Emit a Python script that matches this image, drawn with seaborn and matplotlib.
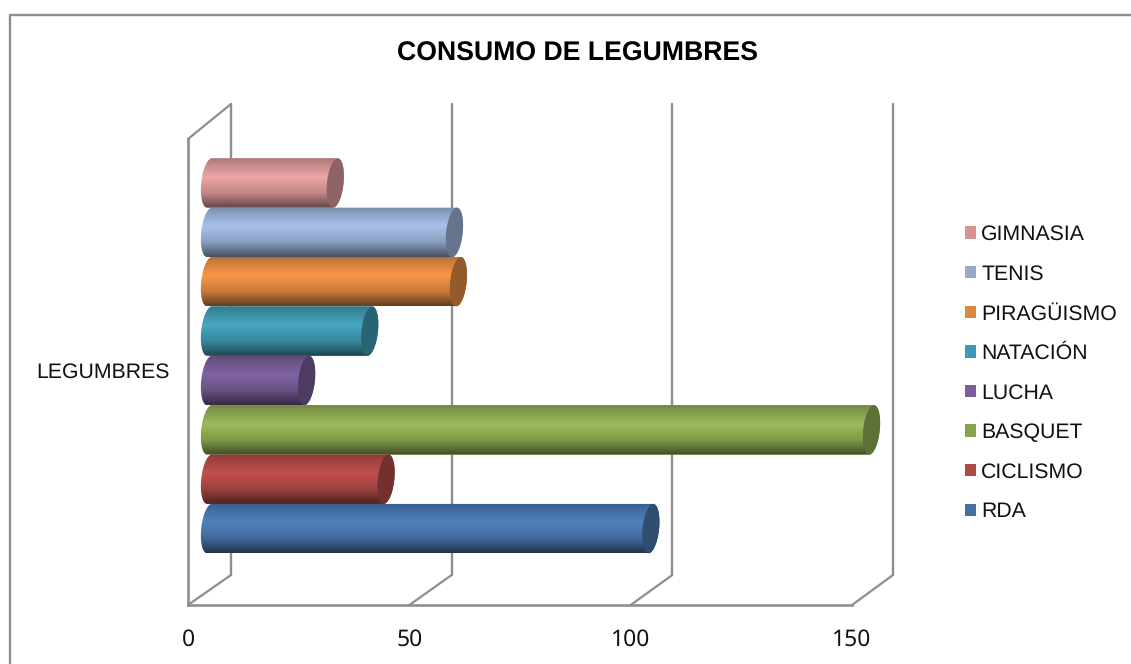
import numpy as np
import pandas as pd
import matplotlib
matplotlib.use("Agg")
import matplotlib.pyplot as plt
from matplotlib.lines import Line2D
from matplotlib.patches import Patch, Polygon
from matplotlib.transforms import IdentityTransform
import seaborn as sns

# ---- data ----
category = "LEGUMBRES"
sports = ["GIMNASIA", "TENIS", "PIRAGÜISMO", "NATACIÓN", "LUCHA", "BASQUET", "CICLISMO", "RDA"]
values = [28.5, 55.5, 56.4, 36.3, 22, 150, 40, 100]
peak_colors = ["#EDA5A5", "#A8C2EA", "#F79646", "#45A7C0", "#8064A2", "#9BBB59", "#C0504D", "#4F81BD"]
legend_colors = ["#D59393", "#95A9D0", "#DD8840", "#3F99B0", "#7A5F9A", "#88A24E", "#B04A47", "#44719F"]
x_ticks = [0, 50, 100, 150]
title = "CONSUMO DE LEGUMBRES"

W, H = 1131, 664
LINE = "#8E8E8E"

sns.set_theme(style="white")
plt.rcParams["font.family"] = ["Liberation Sans", "DejaVu Sans"]
plt.rcParams["text.hinting"] = "no_hinting"


def axes_px(fig, left, top, right, bottom):
    return fig.add_axes([left / W, 1 - bottom / H, (right - left) / W, (bottom - top) / H])


fig = plt.figure(figsize=(W / 100, H / 100), dpi=100, facecolor="white")

# outer chart border
fig.add_artist(Line2D([9.5 / W, 9.5 / W, 1], [0, 1 - 14.5 / H, 1 - 14.5 / H],
                      color=LINE, lw=1.7, transform=fig.transFigure))

# back wall with the gridlines
back = axes_px(fig, 231, 104, 893, 575)
back.set_xlim(0, 150)
back.set_ylim(0, 1)
back.set_xticks(x_ticks)
back.set_yticks([])
back.tick_params(length=0, labelbottom=False)
back.grid(True, axis="x", color=LINE, lw=1.7)
for gl in back.get_xgridlines():
    gl.set_clip_on(False)
back.patch.set_visible(False)
sns.despine(ax=back, left=True, bottom=True)

# front plane: axis lines and labels
front = axes_px(fig, 188, 139, 852, 605)
front.set_xlim(0, 150)
front.set_ylim(0, 1)
front.patch.set_visible(False)
sns.despine(ax=front)
for s in ("left", "bottom"):
    front.spines[s].set_color(LINE)
    front.spines[s].set_linewidth(1.9)
front.set_xticks(x_ticks)
front.set_xticklabels([str(v) for v in x_ticks], family="Noto Sans", fontsize=16.5, color="#111111")
front.set_yticks([0.504])
front.set_yticklabels([category], fontsize=15.3, color="#111111")
front.tick_params(axis="x", length=0, pad=17)
front.tick_params(axis="y", length=0, pad=13)

# floor diagonals
fig.canvas.draw()
for v in x_ticks:
    a = front.transData.transform((v, 0))
    b = back.transData.transform((v, 0))
    front.add_line(Line2D([a[0], b[0]], [a[1], b[1]], color=LINE, lw=1.6,
                          transform=IdentityTransform(), clip_on=False))
a = front.transData.transform((0, 1))
b = back.transData.transform((0, 1))
front.add_line(Line2D([a[0], b[0]], [a[1], b[1]], color=LINE, lw=1.6,
                      transform=IdentityTransform(), clip_on=False))

# bars, at mid depth between the front plane and the back wall
px_per_unit = 662 / 150
px_per_band = 395 / 0.8
margin_x = 10
margin_y = 0.45
bars_ax = axes_px(fig, 209.5 - margin_x * px_per_unit, 355.8 - margin_y * px_per_band,
                  871.5 + margin_x * px_per_unit, 355.8 + margin_y * px_per_band)
df = pd.DataFrame({"grupo": [category] * len(sports), "deporte": sports, "valor": values})
sns.barplot(data=df, y="grupo", x="valor", hue="deporte", hue_order=sports,
            palette=peak_colors, width=0.8, gap=0, dodge=True, ax=bars_ax, legend=False,
            linewidth=0)
bars_ax.set_xlim(-margin_x, 150 + margin_x)
bars_ax.set_ylim(margin_y, -margin_y)
bars_ax.set_autoscale_on(False)
bars_ax.axis("off")

a_u = 8.3 / px_per_unit
s_u = 2.4 / px_per_unit
stops = [0, 0.10, 0.38, 0.70, 1]
shade = [0.72, 0.82, 1.0, 0.82, 0.42]
profile = np.interp(np.linspace(0, 1, 64), stops, shade)

patches = [c[0] for c in bars_ax.containers]
for i, (bar, col) in enumerate(zip(patches, peak_colors)):
    y0, h, v = bar.get_y(), bar.get_height(), bar.get_width()
    yc, b_u = y0 + h / 2, h / 2

    def ring(cx, t):
        return np.column_stack([cx + a_u * np.cos(t) - s_u * np.sin(t), yc + b_u * np.sin(t)])

    left = ring(0, np.linspace(np.pi / 2, 3 * np.pi / 2, 40))
    right = ring(v, np.linspace(3 * np.pi / 2, 5 * np.pi / 2, 40))
    clip = Polygon(np.vstack([left, right]), closed=True, transform=bars_ax.transData)

    rgb = np.array(matplotlib.colors.to_rgb(col))
    img = np.clip(profile[:, None, None] * rgb[None, None, :], 0, 1)
    z = 3 + i
    bar.set_zorder(z)
    bar.set_clip_path(clip)
    im = bars_ax.imshow(img, extent=(-5, v + 5, y0 + h, y0), aspect="auto",
                        interpolation="bilinear", zorder=z + 0.1, origin="upper")
    im.set_clip_path(clip)
    cap = ring(v, np.linspace(0, 2 * np.pi, 80))
    bars_ax.add_patch(Polygon(cap, closed=True, facecolor=rgb * 0.6, edgecolor="none", zorder=z + 0.2))

bars_ax.set_xlim(-margin_x, 150 + margin_x)
bars_ax.set_ylim(margin_y, -margin_y)

# legend
handles = [Patch(facecolor=c, edgecolor="none") for c in legend_colors]
leg = fig.legend(handles, sports, loc="upper left",
                 bbox_to_anchor=(965 / W, 1 - 225 / H), borderaxespad=0, borderpad=0,
                 frameon=False, fontsize=15.3, labelcolor="#111111",
                 handlelength=0.52, handleheight=0.52, handletextpad=0.24, labelspacing=0.942)

fig.text(577.5 / W, 1 - 53.5 / H, title, ha="center", va="center",
         fontsize=19.2, fontweight="bold", color="black")

fig.savefig("out.png", dpi=100, facecolor="white")
